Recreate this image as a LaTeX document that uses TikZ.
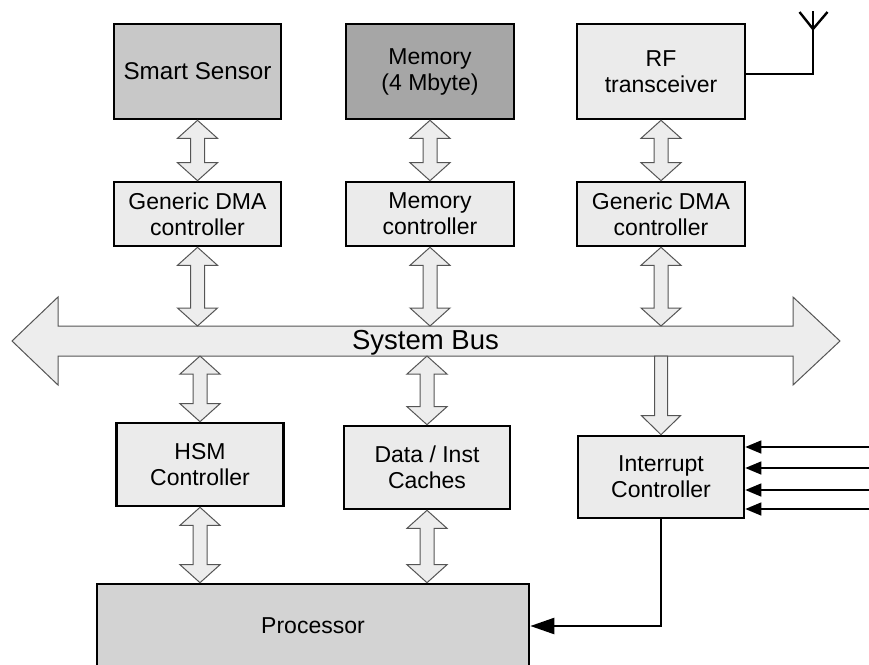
\documentclass[tikz,border=0pt]{standalone}
\usepackage{fontspec}
\setmainfont{Liberation Sans}
\usetikzlibrary{calc,arrows.meta}
\definecolor{boxlight}{HTML}{EBEBEB}
\definecolor{sensorgray}{HTML}{C8C8C8}
\definecolor{memgray}{HTML}{A6A6A6}
\definecolor{procgray}{HTML}{D3D3D3}
\definecolor{fatfill}{HTML}{EDEDED}
\definecolor{fatline}{HTML}{555555}
\newcommand\twoway[2]{%
  \draw[fat] let \p1=(#1), \p2=(#2) in
    (\x1,\y1) -- (\x1+20pt,\y1-18pt) -- (\x1+7pt,\y1-18pt) -- (\x1+7pt,\y2+18pt)
    -- (\x1+20pt,\y2+18pt) -- (\x1,\y2) -- (\x1-20pt,\y2+18pt) -- (\x1-7pt,\y2+18pt)
    -- (\x1-7pt,\y1-18pt) -- (\x1-20pt,\y1-18pt) -- cycle;}
\begin{document}
\begin{tikzpicture}[x=1pt,y=1pt,
  blk/.style={draw=black, line width=2.6pt, fill=boxlight, inner sep=0pt,
    align=center, font=\fontsize{23}{26}\selectfont},
  fat/.style={draw=fatline, line width=1pt, fill=fatfill, line join=miter},
  thickline/.style={draw=black, line width=2.4pt},
  inline/.style={draw=black, line width=1.4pt, -{Triangle[length=16pt,width=13pt]}},
  outline/.style={draw=black, line width=2.4pt, -{Triangle[length=24pt,width=16pt]}}]
\useasboundingbox (0,0) rectangle (869,-664);
\begin{scope}
\clip (0,0) rectangle (869,-664);
% top row
\node[blk, fill=sensorgray, minimum width=167, minimum height=95, font=\fontsize{24.2}{27}\selectfont] (sensor) at (197.5,-71.5) {Smart Sensor};
\node[blk, fill=memgray, minimum width=168, minimum height=95] (mem) at (430,-71.5) {Memory\\(4 Mbyte)};
\node[blk, minimum width=168, minimum height=95] (rf) at (661,-71.5) {RF\\transceiver};
% controllers
\node[blk, minimum width=167, minimum height=64] (dma1) at (197.5,-214) {Generic DMA\\controller};
\node[blk, minimum width=168, minimum height=64] (memctl) at (430,-214) {Memory\\controller};
\node[blk, minimum width=168, minimum height=64] (dma2) at (661,-214) {Generic DMA\\controller};
% lower row
\node[blk, minimum width=167, minimum height=83] (hsm) at (200,-464.5) {HSM\\Controller};
\node[blk, minimum width=166, minimum height=83] (cache) at (427,-467.5) {Data / Inst\\Caches};
\node[blk, minimum width=166, minimum height=82] (intc) at (661,-477) {Interrupt\\Controller};
\node[blk, fill=procgray, minimum width=432, minimum height=84] (proc) at (313,-626) {Processor};
% system bus
\node[inner sep=0pt, outer sep=0pt, minimum width=735, minimum height=30] (bus) at (425.5,-341) {};
\draw[fat] (bus.north west) -- (bus.north east) -- ++(0,29) -- ($(bus.east)+(47,0)$)
  -- ($(bus.south east)+(0,-29)$) -- (bus.south east) -- (bus.south west) -- ++(0,-29)
  -- ($(bus.west)+(-46,0)$) -- ($(bus.north west)+(0,29)$) -- cycle;
\node[font=\fontsize{27.5}{30}\selectfont, inner sep=0pt] (buslabel) at ($(bus)+(0,-1.5)$) {System Bus};
% two-way connectors
\twoway{sensor.south}{dma1.north}
\twoway{mem.south}{memctl.north}
\twoway{rf.south}{dma2.north}
\twoway{dma1.south}{dma1.south |- bus.north}
\twoway{memctl.south}{memctl.south |- bus.north}
\twoway{dma2.south}{dma2.south |- bus.north}
\twoway{hsm.north |- bus.south}{hsm.north}
\twoway{cache.north |- bus.south}{cache.north}
\twoway{hsm.south}{hsm.south |- proc.north}
\twoway{cache.south}{cache.south |- proc.north}
% bus to interrupt controller
\draw[fat] let \p1=(intc.north |- bus.south), \p2=(intc.north) in
  (\x1-6.5pt,\y1) -- (\x1+6.5pt,\y1) -- (\x1+6.5pt,\y2+19pt) -- (\x1+19.5pt,\y2+19pt)
  -- (\x2,\y2) -- (\x1-19.5pt,\y2+19pt) -- (\x1-6.5pt,\y2+19pt) -- cycle;
% interrupt inputs
\coordinate (in1) at (869,-447);
\coordinate (in2) at (869,-468);
\coordinate (in3) at (869,-490);
\coordinate (in4) at (869,-509);
\draw[inline] (in1) -- (intc.east |- in1);
\draw[inline] (in2) -- (intc.east |- in2);
\draw[inline] (in3) -- (intc.east |- in3);
\draw[inline] (in4) -- (intc.east |- in4);
% interrupt to processor
\draw[outline] (intc.south) |- (proc.east);
% antenna
\coordinate (antbase) at (813,-74);
\coordinate (anttop) at (813,-11);
\coordinate (antjoin) at (813,-29);
\coordinate (antl) at (799.5,-12);
\coordinate (antr) at (827.5,-12);
\draw[thickline] (rf.east |- antbase) -- (antbase) -- (anttop);
\draw[thickline] (antl) -- (antjoin) -- (antr);
\end{scope}
\end{tikzpicture}
\end{document}
